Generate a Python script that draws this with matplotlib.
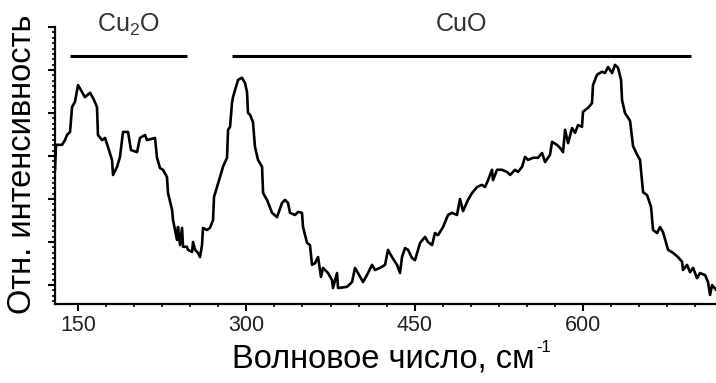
import matplotlib
matplotlib.use('Agg')
import matplotlib.pyplot as plt
from matplotlib.ticker import MultipleLocator, AutoMinorLocator, NullFormatter

# Raman spectrum (wavenumber, cm-1 / relative intensity, arb. units)
wavenumber = [129.5, 130.4, 135.7, 138.4, 140.2, 142.9, 144.7, 147.3, 150.0, 153.6,
              156.2, 160.7, 163.4, 166.9, 167.8, 171.4, 174.1, 176.7, 180.3, 181.2,
              184.8, 187.4, 190.1, 194.6, 197.2, 202.6, 205.2, 209.7, 211.5, 218.6,
              220.4, 223.1, 225.7, 229.3, 230.2, 233.8, 234.7, 236.4, 238.2, 239.1,
              240.9, 242.7, 243.6, 247.1, 248.0, 251.6, 252.5, 254.3, 256.9, 258.7,
              260.5, 261.4, 264.9, 267.6, 270.3, 271.2, 273.9, 276.5, 279.2, 282.8,
              283.7, 285.5, 287.2, 288.1, 290.8, 292.6, 296.1, 298.8, 300.6, 301.5,
              303.3, 305.9, 307.7, 310.4, 314.0, 314.9, 318.4, 322.9, 327.3, 331.8,
              334.5, 337.1, 338.9, 343.4, 346.0, 349.6, 350.5, 354.1, 356.7, 358.5,
              361.2, 363.9, 366.5, 368.3, 372.8, 376.3, 377.2, 380.8, 381.7, 389.7,
              394.2, 396.8, 399.5, 404.0, 408.4, 412.0, 414.7, 419.1, 423.6, 426.2,
              429.8, 434.3, 436.9, 438.7, 441.4, 444.1, 447.6, 450.3, 454.8, 459.2,
              461.9, 465.5, 468.1, 470.8, 475.3, 479.7, 483.3, 487.7, 490.4, 493.1,
              497.5, 501.1, 505.6, 510.0, 512.7, 515.4, 518.9, 519.8, 523.4, 527.8,
              532.3, 535.0, 539.4, 542.1, 545.7, 548.3, 551.0, 555.5, 559.9, 563.5,
              566.2, 570.6, 572.4, 576.8, 579.5, 582.2, 584.0, 586.7, 590.2, 592.9,
              595.6, 599.1, 600.0, 604.5, 608.0, 608.9, 612.5, 616.9, 619.6, 622.3,
              625.9, 628.5, 631.2, 633.9, 634.8, 637.4, 641.9, 644.6, 648.2, 650.8,
              653.5, 657.1, 660.6, 662.4, 666.0, 668.6, 671.3, 675.8, 680.2, 684.7,
              688.3, 689.1, 692.7, 695.4, 698.1, 701.6, 704.3, 708.8, 711.4, 713.2,
              715.0, 718.6]
intensity = [368, 426, 426, 437, 449, 456, 514, 526, 565, 549,
             537, 547, 535, 514, 449, 437, 442, 421, 391, 356,
             375, 398, 456, 456, 414, 409, 442, 449, 437, 442,
             396, 372, 368, 351, 314, 275, 251, 228, 205, 235,
             193, 233, 189, 189, 182, 177, 200, 182, 175, 165,
             193, 233, 228, 233, 251, 305, 328, 351, 375, 396,
             461, 468, 523, 537, 561, 577, 582, 570, 549, 500,
             496, 479, 421, 391, 375, 314, 298, 268, 258, 291,
             298, 291, 268, 263, 270, 268, 235, 198, 193, 147,
             151, 165, 119, 140, 128, 112, 93, 128, 93, 96,
             107, 140, 128, 107, 128, 147, 135, 140, 147, 182,
             165, 147, 128, 165, 186, 182, 163, 158, 198, 212,
             200, 193, 221, 216, 235, 263, 268, 263, 300, 272,
             298, 314, 328, 333, 328, 344, 368, 344, 368, 368,
             363, 356, 368, 363, 375, 398, 391, 396, 396, 407,
             386, 403, 433, 426, 419, 409, 461, 430, 465, 454,
             472, 468, 503, 512, 523, 565, 589, 596, 593, 607,
             593, 612, 605, 577, 530, 500, 482, 423, 403, 391,
             316, 309, 282, 228, 221, 235, 223, 182, 175, 165,
             154, 135, 147, 130, 140, 116, 128, 123, 107, 77,
             100, 89]

# phase bands marked above the spectrum
phase_names = [r'Cu$_\mathrm{2}$O', 'CuO']
phase_start = [142.9, 287.2]
phase_end = [247.1, 696.2]
band_level = 633
label_level = 706

plt.rcParams['font.family'] = ['Liberation Sans', 'DejaVu Sans']
plt.rcParams['mathtext.fontset'] = 'custom'
plt.rcParams['mathtext.rm'] = 'Liberation Sans'
plt.rcParams['mathtext.it'] = 'Liberation Sans:italic'

fig = plt.figure(figsize=(7.16, 3.83), dpi=100)
ax = fig.add_axes([55 / 716, 1 - 304 / 383, 661 / 716, 277 / 383])

ax.plot(wavenumber, intensity, color='black', lw=1.9)

for name, x0, x1 in zip(phase_names, phase_start, phase_end):
    ax.plot([x0, x1], [band_level, band_level], color='black', lw=2.2,
            solid_capstyle='butt')
    ax.text((x0 + x1) / 2, label_level, name, ha='center', va='center',
            fontsize=18, color='#333333', clip_on=False)

ax.set_xlim(129.5, 718.5)
ax.set_ylim(56, 700)

ax.spines['top'].set_visible(False)
ax.spines['right'].set_visible(False)
ax.spines['left'].set_linewidth(1.6)
ax.spines['bottom'].set_linewidth(1.6)

ax.xaxis.set_major_locator(MultipleLocator(150))
ax.xaxis.set_minor_locator(MultipleLocator(25))
ax.yaxis.set_major_locator(MultipleLocator(100))
ax.yaxis.set_minor_locator(AutoMinorLocator(8))
ax.yaxis.set_major_formatter(NullFormatter())
ax.tick_params(axis='both', which='major', direction='out', length=5, width=1.5)
ax.tick_params(axis='both', which='minor', direction='out', length=2.5, width=1.2)
ax.tick_params(axis='x', labelsize=15.5, pad=3, labelcolor='#222222')

# x label with a small raised "-1", as in the original
xl = fig.text(232 / 716, 1 - 368 / 383, 'Волновое число, см',
              fontsize=23.5, ha='left', va='baseline')
fig.canvas.draw()
bb = xl.get_window_extent(renderer=fig.canvas.get_renderer())
fig.text((bb.x1 + 2) / 716, 1 - 352 / 383, '-1', fontsize=12,
         ha='left', va='baseline')

fig.text(23 / 716, 1 - 164 / 383, 'Отн. интенсивность', fontsize=23.5,
         rotation=90, ha='center', va='center')

plt.savefig('out.png', dpi=100)
